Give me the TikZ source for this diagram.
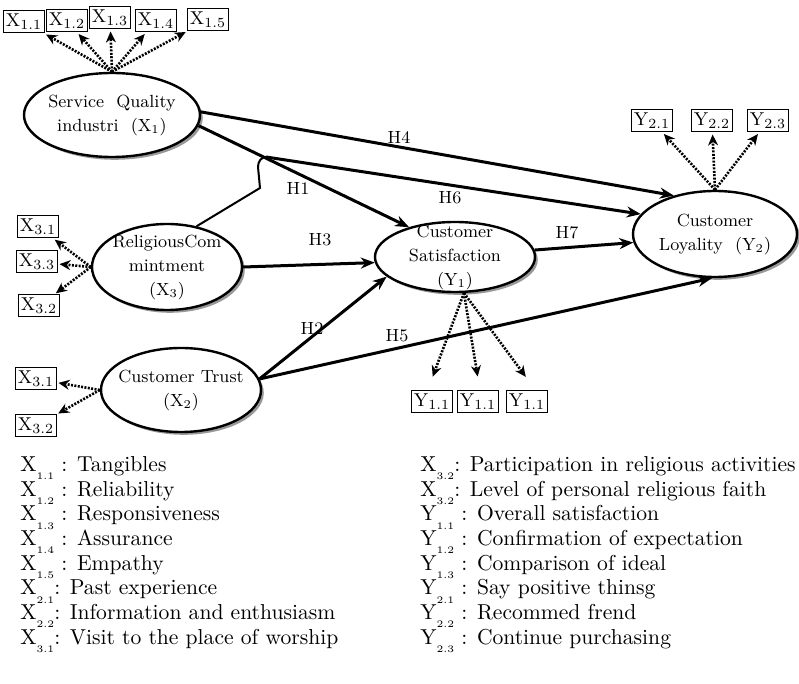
\documentclass[tikz,border=0pt]{standalone}
\usepackage{tikz}
\usetikzlibrary{shapes.geometric, arrows.meta, shadows}

\newcommand{\ind}[2]{#1$_{\mathrm{#2}}$}
\newcommand{\lsub}[2]{#1\raisebox{-0.9ex}{\tiny #2}}

\begin{document}
\begin{tikzpicture}[x=0.5pt, y=-0.5pt]
        \tikzstyle{latent} = [ellipse, draw=black, line width=1.2pt, fill=white, inner sep=-4pt, align=center, font=\fontsize{8.8}{12}\selectfont, drop shadow={shadow xshift=1.4pt, shadow yshift=-1.4pt, fill=gray!80, opacity=1}]
        \tikzstyle{indbox} = [rectangle, draw=black, line width=0.5pt, fill=white, minimum width=17pt, minimum height=11pt, inner sep=1pt, font=\fontsize{9.3}{10}\selectfont]
        \tikzstyle{arrow} = [line width=1.5pt,->,>={Stealth[length=7pt, width=5.5pt]}]
        \tikzstyle{dotarrow} = [line width=1.3pt, dash pattern=on 1pt off 0.7pt, ->, >={Stealth[length=5.5pt, width=5pt]}, shorten >=1pt]
        \tikzstyle{hlabel} = [font=\fontsize{8.8}{10}\selectfont, inner sep=1pt]
        \tikzstyle{legend} = [align=left, anchor=north west, inner sep=0pt, font=\fontsize{10.8}{12.35}\selectfont]

        \useasboundingbox (0,0) rectangle (799,684);

        % Nodes
        \node (sq) [latent, minimum width=88pt, minimum height=42pt] at (112,115) {Service~~Quality\\industri~~(X$_1$)};
        \node (rc) [latent, minimum width=75pt, minimum height=43pt] at (167,267) {ReligiousCom\\mintment\\(X$_3$)};
        \node (ct) [latent, minimum width=80pt, minimum height=42pt] at (181,390) {Customer Trust\\(X$_2$)};
        \node (cs) [latent, minimum width=80pt, minimum height=35pt] at (455,257) {Customer\\Satisfaction\\(Y$_1$)};
        \node (loyal) [latent, minimum width=82pt, minimum height=43pt] at (715,234) {Customer\\Loyality~~(Y$_2$)};

        \node (x11) [indbox] at (24,22) {\ind{X}{1.1}};
        \node (x12) [indbox] at (67,21) {\ind{X}{1.2}};
        \node (x13) [indbox] at (110,18) {\ind{X}{1.3}};
        \node (x14) [indbox] at (156,21) {\ind{X}{1.4}};
        \node (x15) [indbox] at (208,20) {\ind{X}{1.5}};

        \node (x31a) [indbox] at (38,227) {\ind{X}{3.1}};
        \node (x33) [indbox] at (37,262) {\ind{X}{3.3}};
        \node (x32a) [indbox] at (39,306) {\ind{X}{3.2}};

        \node (x31b) [indbox] at (36,379) {\ind{X}{3.1}};
        \node (x32b) [indbox] at (36,426) {\ind{X}{3.2}};

        \node (y11a) [indbox] at (432,402) {\ind{Y}{1.1}};
        \node (y11b) [indbox] at (478,402) {\ind{Y}{1.1}};
        \node (y11c) [indbox] at (527,402) {\ind{Y}{1.1}};

        \node (y21) [indbox] at (652,121) {\ind{Y}{2.1}};
        \node (y22) [indbox] at (712,121) {\ind{Y}{2.2}};
        \node (y23) [indbox] at (768,121) {\ind{Y}{2.3}};

        \node (h4) [hlabel] at (399,137) {H4};
        \node (h1) [hlabel] at (298,188) {H1};
        \node (h6) [hlabel] at (450,198) {H6};
        \node (h3) [hlabel] at (320,240) {H3};
        \node (h7) [hlabel] at (567,233) {H7};
        \node (h2) [hlabel] at (312,328) {H2};
        \node (h5) [hlabel] at (397,336) {H5};

        \coordinate (h6start) at (266,157);

        % Arrows
        \draw [arrow] (sq.2) -- (loyal.137);
        \draw [arrow] (sq.353) -- (cs.147);
        \draw [line width=1pt] (rc.54) -- (260,188) -- (258,167) to[out=90,in=180] (h6start);
        \draw [arrow] (h6start) -- (loyal.165);
        \draw [arrow] (rc.east) -- (cs.184);
        \draw [arrow] (cs.5) -- (loyal.186);
        \draw [arrow] (ct.8) -- (cs.196);
        \draw [arrow] (ct.8) -- (loyal.266);

        % Indicators
        \draw [dotarrow] (sq.north) -- (x11);
        \draw [dotarrow] (sq.north) -- (x12);
        \draw [dotarrow] (sq.north) -- (x13);
        \draw [dotarrow] (sq.north) -- (x14);
        \draw [dotarrow] (sq.north) -- (x15);
        \draw [dotarrow] (rc.west) -- (x31a);
        \draw [dotarrow] (rc.west) -- (x33);
        \draw [dotarrow] (rc.west) -- (x32a);
        \draw [dotarrow] (ct.west) -- (x31b);
        \draw [dotarrow] (ct.west) -- (x32b);
        \draw [dotarrow] (cs.284) -- ([yshift=6pt]y11a.north);
        \draw [dotarrow] (cs.284) -- ([yshift=6pt]y11b.north);
        \draw [dotarrow] (cs.284) -- ([yshift=6pt]y11c.north);
        \draw [dotarrow] (loyal.north) -- (y21);
        \draw [dotarrow] (loyal.north) -- (y22);
        \draw [dotarrow] (loyal.north) -- (y23);

        % Legend
        \node (legleft) [legend] at (20,456) {\lsub{X}{1.1} : Tangibles\\ \lsub{X}{1.2} : Reliability\\ \lsub{X}{1.3} : Responsiveness\\ \lsub{X}{1.4} : Assurance\\ \lsub{X}{1.5} : Empathy\\ \lsub{X}{2.1}: Past experience\\ \lsub{X}{2.2}: Information and enthusiasm\\ \lsub{X}{3.1}: Visit to the place of worship};
        \node (legright) [legend] at (420,456) {\lsub{X}{3.2}: Participation in religious activities\\ \lsub{X}{3.2}: Level of personal religious faith\\ \lsub{Y}{1.1} : Overall satisfaction\\ \lsub{Y}{1.2} : Confirmation of expectation\\ \lsub{Y}{1.3} : Comparison of ideal\\ \lsub{Y}{2.1} : Say positive thinsg\\ \lsub{Y}{2.2} : Recommed frend\\ \lsub{Y}{2.3} : Continue purchasing};

    \end{tikzpicture}
\end{document}
